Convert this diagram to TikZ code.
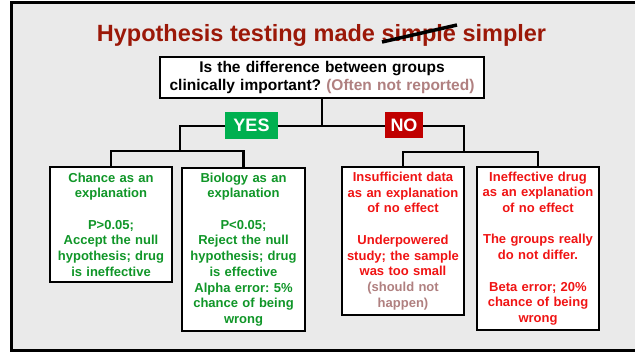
\documentclass[tikz,border=0pt]{standalone}
\usepackage{fontspec}
\setmainfont{Liberation Sans}
\frenchspacing
\definecolor{bgc}{RGB}{234,234,234}
\definecolor{titlec}{RGB}{155,24,8}
\definecolor{greentx}{RGB}{16,150,40}
\definecolor{redtx}{RGB}{240,20,20}
\definecolor{rosetx}{RGB}{176,128,128}
\definecolor{yesc}{RGB}{0,176,80}
\definecolor{noc}{RGB}{192,0,0}
\pgfdeclarelayer{bg}
\pgfsetlayers{bg,main}
\begin{document}
\begin{tikzpicture}[x=1pt,y=-1pt,
  conn/.style={line width=2.8pt, line cap=rect, line join=miter},
  box/.style={draw=black, line width=2pt, fill=white, inner sep=2pt, align=center,
    font=\fontsize{13}{15.7}\selectfont\bfseries},
  greenbox/.style={box, text=greentx},
  redbox/.style={box, text=redtx},
  tag/.style={inner sep=0pt, text=white, font=\fontsize{18}{20}\selectfont\bfseries}
]
\useasboundingbox (0,0) rectangle (635,354);
\begin{pgfonlayer}{bg}
  \fill[white] (0,0) rectangle (635,354);
  \begin{scope}
    \clip (0,0) rectangle (635,354);
    \draw[line width=3pt, fill=bgc] (11.5,2.5) rectangle (645,350.5);
  \end{scope}
\end{pgfonlayer}

\node[anchor=base, text=titlec, inner sep=0pt, font=\fontsize{23.5}{28}\selectfont\bfseries]
  (title) at (321.5,41) {Hypothesis testing made simple simpler};
\draw[line width=3.5pt] (382,42) -- (457,25);

\node[box, font=\fontsize{15.5}{18}\selectfont\bfseries, minimum width=324pt, minimum height=41pt,
  text width=318pt] (Q) at (322,77)
  {Is the difference between groups\\clinically important? \textcolor{rosetx}{(Often not reported)}};

\node[greenbox, minimum width=122pt, minimum height=115pt, text width=118pt] (A) at (111,224.5)
  {Chance as an\\explanation\\[15.7pt]P>0.05;\\Accept the null\\hypothesis; drug\\is ineffective};
\node[greenbox, minimum width=123pt, minimum height=163pt, text width=119pt] (B) at (243.5,249.5)
  {Biology as an\\explanation\\[15.7pt]P<0.05;\\Reject the null\\hypothesis; drug\\is effective\\Alpha error: 5\%\\chance of being\\wrong};
\node[redbox, minimum width=122pt, minimum height=148pt, text width=118pt] (C) at (403,241)
  {Insufficient data\\as an explanation\\of no effect\\[15.7pt]Underpowered\\study; the sample\\was too small\\\textcolor{rosetx}{(should not}\\\textcolor{rosetx}{happen)}};
\node[redbox, minimum width=122pt, minimum height=163pt, text width=118pt] (D) at (538,248.5)
  {Ineffective drug\\as an explanation\\of no effect\\[15.7pt]The groups really\\do not differ.\\[15.7pt]Beta error; 20\%\\chance of being\\wrong};

\node[tag, fill=yesc, minimum width=53pt, minimum height=27pt] (yes) at (251.5,125.5) {YES};
\node[tag, fill=noc, minimum width=38pt, minimum height=26pt] (no) at (404,125) {NO};

\coordinate (hub) at (322,126);
\coordinate (yesJ) at (180,126);
\coordinate (noJ) at (464,126);
\coordinate (yesB) at (180,151);
\coordinate (noB) at (464,152);

\begin{pgfonlayer}{bg}
  \draw[conn] (Q.south) -- (hub);
  \draw[conn] (yesJ) -- (noJ);
  \draw[conn] (yesJ) -- (yesB);
  \draw[conn] (A.north) -- (A.north |- yesB) -- (B.north |- yesB) -- (B.north);
  \draw[conn] (noJ) -- (noB);
  \draw[conn] (C.north) -- (C.north |- noB) -- (D.north |- noB) -- (D.north);
\end{pgfonlayer}
\end{tikzpicture}
\end{document}
